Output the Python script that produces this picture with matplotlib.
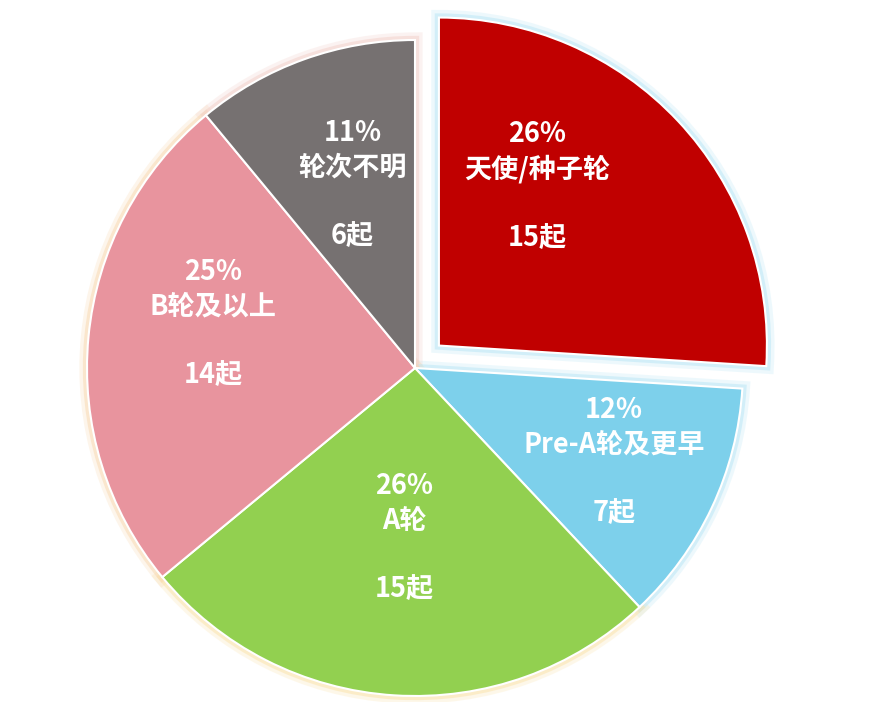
import matplotlib
matplotlib.use('Agg')
import matplotlib.pyplot as plt
import numpy as np

plt.rcParams['font.family'] = ['Noto Sans CJK SC', 'DejaVu Sans']

# data
rounds = ['天使/种子轮', 'Pre-A轮及更早', 'A轮', 'B轮及以上', '轮次不明']
shares = [26, 12, 26, 25, 11]
counts = [15, 7, 15, 14, 6]
colors = ['#C00000', '#7DD0EB', '#92D050', '#E8949E', '#767171']
glows = ['#B8E6F6', '#B8E6F6', '#FBE3A8', '#F8D8B0', '#F2CFC8']
explode = [0.1, 0, 0, 0, 0]

# label placement (radius fraction, angle nudge in degrees)
label_r = [0.57, 0.67, 0.52, 0.63, 0.59]
label_da = [15, 0, 0, -7, -1]

fig = plt.figure(figsize=(8.79, 7.02), dpi=100)
ax = fig.add_axes([0, 0, 1, 1])

# soft glow underneath the wedges
for lw, a in [(11, 0.25), (6, 0.5)]:
    bg, _ = ax.pie(shares, explode=explode, startangle=90, counterclock=False,
                   colors=colors)
    for w, g in zip(bg, glows):
        w.set_facecolor(g)
        w.set_edgecolor(g)
        w.set_linewidth(lw)
        w.set_alpha(a)
        w.set_zorder(1)

wedges, _ = ax.pie(shares, explode=explode, startangle=90, counterclock=False,
                   colors=colors,
                   wedgeprops=dict(edgecolor='white', linewidth=1.5))
for w in wedges:
    w.set_zorder(2)

for w, name, p, n, r, da in zip(wedges, rounds, shares, counts, label_r, label_da):
    ang = np.deg2rad((w.theta1 + w.theta2) / 2 + da)
    cx, cy = w.center
    ax.text(cx + r * np.cos(ang), cy + r * np.sin(ang),
            f'{p}%\n{name}\n\n{n}起', ha='center', va='center',
            color='white', fontsize=19.5, fontweight='bold', linespacing=1.3,
            zorder=3)

px = 328.0
ax.set_xlim(-415 / px, (879 - 415) / px)
ax.set_ylim(-(702 - 368) / px, 368 / px)
ax.set_aspect('auto')
ax.axis('off')

fig.savefig('out.png', dpi=100)
